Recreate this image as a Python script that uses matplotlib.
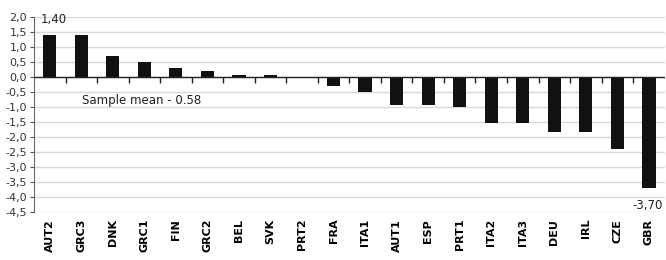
import matplotlib
matplotlib.use("Agg")
import matplotlib.pyplot as plt
import numpy as np

# Values
countries = ['AUT2', 'GRC3', 'DNK', 'GRC1', 'FIN', 'GRC2', 'BEL', 'SVK', 'PRT2', 'FRA',
             'ITA1', 'AUT1', 'ESP', 'PRT1', 'ITA2', 'ITA3', 'DEU', 'IRL', 'CZE', 'GBR']
values = [1.40, 1.40, 0.70, 0.50, 0.30, 0.20, 0.07, 0.07, 0.0, -0.30,
          -0.50, -0.93, -0.93, -1.00, -1.53, -1.53, -1.83, -1.83, -2.40, -3.70]
sample_mean = -0.58
yticks = np.arange(-4.5, 2.01, 0.5)


def fmt(v, nd):
  return f"{v:.{nd}f}".replace('.', ',')


fig = plt.figure(figsize=(6.66, 2.6), dpi=100)
ax = fig.add_axes([0.051, 0.185, 0.947, 0.75])

x = np.arange(len(countries))
ax.bar(x, values, width=0.42, color='#111111', zorder=3)

ax.set_xlim(-0.5, len(countries) - 0.5)
ax.set_ylim(-4.5, 2.0)
ax.set_yticks(yticks)
ax.set_yticklabels([fmt(v, 1) for v in yticks], fontsize=8, color='#333333')
ax.yaxis.grid(True, color='#d9d9d9', linewidth=1, zorder=0)
ax.tick_params(axis='y', length=3, width=0.8, pad=2, color='#555555')

ax.set_xticks(x)
ax.set_xticklabels(countries, rotation=90, fontsize=8, fontweight='bold')
ax.tick_params(axis='x', length=0, pad=5)

for s in ['top', 'right', 'bottom']:
  ax.spines[s].set_visible(False)
ax.spines['left'].set_color('#666666')

# category axis drawn at zero with boundary tick marks
ax.axhline(0, color='#222222', linewidth=1, zorder=4)
ax.vlines(x[1:] - 0.5, -0.2, 0, color='#222222', linewidth=1, zorder=4)

# data labels
ax.text(x[0] - 0.3, values[0] + 0.3, fmt(values[0], 2), fontsize=8.5, color='#222222', va='bottom')
ax.text(x[-1] + 0.45, -4.3, fmt(values[-1], 2), fontsize=8.5, color='#222222',
        va='center', ha='right')

ax.text(1.02, -0.8, f"Sample mean - {abs(sample_mean):.2f}", fontsize=8.5, color='#222222',
        va='center')

fig.savefig('out.png', dpi=100)
